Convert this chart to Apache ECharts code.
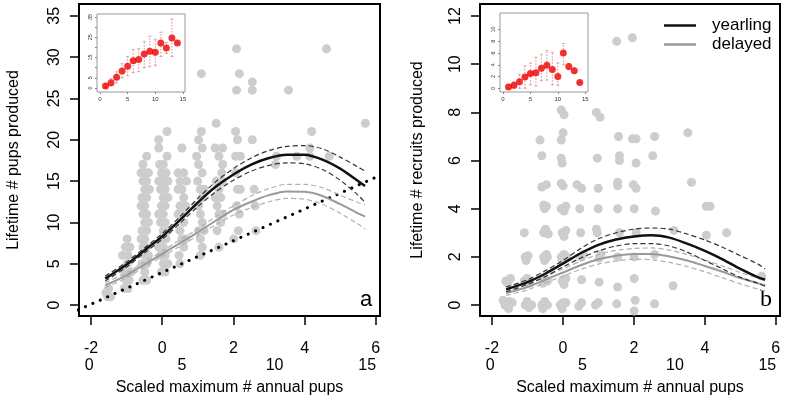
<!DOCTYPE html>
<html>
<head>
<meta charset="utf-8">
<script src="https://cdn.jsdelivr.net/npm/echarts@6/dist/echarts.min.js"></script>
<style>
html,body{margin:0;padding:0;background:#fff;}
#c{width:787px;height:401px;}
</style>
</head>
<body>
<div id="c"></div>
<script>
// ---------- axis conversion (raw pups <-> scaled) ----------
const rawMean = 3.94, rawSd = 1.92;
const scaledTicks = [-2, 0, 2, 4, 6];
const rawTicks = [0, 5, 10, 15];
const pupsTicks = [0, 5, 10, 15, 20, 25, 30, 35];
const recruitTicks = [0, 2, 4, 6, 8, 10, 12];

// ---------- panel a: scatter (raw max annual pups, lifetime pups) ----------
const pupsPoints = [
  [1.0,1],[1.15,1],[1.05,2],[0.9,1.5],
  [1.9,2],[2.1,2],[2.0,3],[2.15,3],[1.9,4],[2.25,4],[2.05,5],[2.1,6],[1.8,6],[1.95,7],[2.2,7],[2.05,8],
  [2.9,3],[3.1,3],[3.0,4],[2.85,5],[3.1,5],[3.0,6],[3.2,6],[2.9,7],[3.1,7],[3.0,8],[2.8,8],[2.85,9],[3.1,9],[3.0,10],[3.2,10],
  [2.9,11],[3.1,11],[3.0,12],[2.8,12],[2.85,13],[3.1,13],[3.0,14],[3.25,14],[2.9,15],[3.1,15],[3.0,16],[2.8,16],[3.2,16],[2.9,17],[3.1,18],
  [3.9,4],[4.1,4],[4.0,5],[4.25,5],[3.85,6],[4.1,6],[4.0,7],[3.75,7],[3.9,8],[4.15,8],[4.0,9],[4.25,9],[3.85,10],[4.1,10],[4.0,11],[3.75,11],
  [3.9,12],[4.1,12],[4.0,13],[4.25,13],[3.85,14],[4.1,14],[4.0,15],[3.75,15],[4.25,15],[3.9,16],[4.15,16],[4.0,17],[3.8,17],[4.2,18],
  [3.75,19],[3.75,20],[4.2,21],
  [4.9,5],[4.85,6],[5.1,7],[5.0,8],[5.2,8],[4.9,9],[5.1,10],[5.0,11],[4.8,11],[4.9,12],[5.2,12],[5.1,13],[5.0,14],[4.8,14],
  [4.9,15],[5.25,15],[5.1,16],[4.8,16],[5.0,19],
  [6.0,6],[6.1,7],[6.0,8],[5.9,9],[6.2,9],[6.1,10],[6.0,11],[5.9,12],[5.8,12],[6.1,13],[6.0,14],[6.2,14],[5.85,15],[6.1,16],[5.9,17],[5.8,18],
  [6.1,19],[5.9,20],[6.05,21],[6.05,28],
  [7.0,7],[6.9,9],[7.1,10],[7.0,11],[7.2,11],[6.9,12],[7.1,13],[6.8,13],[7.0,14],[6.85,15],[7.2,15],[7.15,16],[7.2,17],[7.0,18],[6.8,19],[7.2,19],[6.85,22],
  [7.8,8],[8.05,9],[8.1,11],[7.95,12],[8.0,14],[8.15,14],[7.9,16],[7.9,18],[8.15,18],[8.0,20],[7.9,21],[7.95,26],[8.1,28],[7.95,31],
  [9.0,9],[8.95,12],[8.9,14],[8.8,20],[8.8,26],[8.8,27],
  [10.05,17],[10.1,18],[10.75,26],[11.2,18],[11.9,18],[11.9,19],[12.0,21],[12.8,31],[12.95,18],[14.9,22]
];

// ---------- panel b: scatter (raw max annual pups, lifetime recruits) ----------
const recruitPoints = [
  [0.8,0],[1.0,-0.15],[1.05,0.15],[1.2,0.1],[0.7,0.2],[1.9,0],[2.1,-0.1],[2.0,0.15],[2.25,0],[2.8,0],[2.95,0.15],[2.85,-0.15],[3.1,0],
  [3.8,0],[3.95,0.1],[3.9,-0.15],[4.1,0.1],[4.8,-0.05],[4.95,0.1],[5.7,0],[5.85,0.1],[6.85,0.05],[7.8,-0.25],[7.85,0.2],[8.9,0.05],
  [0.85,1],[0.95,0.9],[1.1,1.1],[1.85,1],[2.0,1.1],[2.15,0.9],[2.85,0.9],[2.95,1.1],[3.1,1],[3.9,1],[4.0,0.85],[4.1,1.1],[4.95,1.05],[5.9,0.95],
  [6.9,0.75],[7.8,1.1],[9.9,0.8],[14.7,1.2],
  [1.9,2],[1.95,1.85],[2.05,2.05],[2.9,2],[3.05,2.1],[2.95,1.85],[3.1,2.0],[3.85,2],[4.0,2.1],[3.9,1.85],[4.15,2.0],[4.9,2],[5.05,2.1],
  [5.9,1.95],[6.0,2.1],[6.9,2],[7.8,2],[8.9,2.1],
  [1.85,3],[2.9,3],[3.0,3.15],[3.15,2.95],[3.9,3],[4.0,2.85],[4.1,3.1],[4.9,3],[5.8,3],[5.75,3.15],[7.0,3],[7.9,3],[9.95,3.1],[11.7,2.9],[12.8,3.0],
  [2.95,4],[3.05,4.1],[2.9,4.15],[3.85,4],[4.0,3.9],[4.1,4.1],[4.85,4],[5.85,4],[6.9,4],[7.8,4],[8.95,3.9],[11.7,4.1],[11.9,4.1],
  [2.8,4.9],[3.05,5.0],[3.85,5.05],[3.95,4.95],[4.7,5.0],[4.95,4.85],[5.85,4.85],[6.9,5.1],[6.9,4.95],[7.75,5.0],[7.9,4.85],[10.9,5.1],
  [2.8,6.2],[3.85,6.1],[3.9,5.9],[5.8,6.1],[7.0,6.2],[7.0,6.0],[7.9,5.9],[8.8,6.2],
  [2.7,6.85],[3.85,6.85],[3.95,7.15],[6.95,7.0],[7.7,6.9],[7.9,6.9],[8.9,7.0],[10.7,7.15],
  [3.85,8.1],[4.0,7.9],[5.75,8.0],[5.95,7.8],
  [6.85,10.95],[7.7,11.1]
];

// ---------- fitted curves (scaled x) ----------
const curveX = [-1.6,-1.0,-0.5,0,0.5,1.0,1.5,2.0,2.5,3.0,3.5,4.0,4.5,5.0,5.5,5.7];
const yearA   = [3.2,4.9,6.6,8.3,10.3,12.4,14.3,15.8,17.0,17.8,18.2,18.2,17.6,16.5,15.0,14.4];
const yearAHi = [3.5,5.2,6.9,8.65,10.7,12.9,14.9,16.5,17.8,18.7,19.2,19.3,18.9,17.9,16.7,16.2];
const yearALo = [2.9,4.6,6.3,7.95,9.9,11.9,13.7,15.1,16.2,16.9,17.2,17.1,16.4,15.1,13.3,12.4];
const delA    = [2.4,3.6,4.9,6.2,7.5,8.8,10.2,11.5,12.5,13.3,13.75,13.7,13.2,12.2,11.1,10.7];
const delAHi  = [2.7,3.9,5.2,6.5,7.9,9.2,10.7,12.0,13.2,14.1,14.6,14.6,14.2,13.3,12.4,12.1];
const delALo  = [2.1,3.3,4.6,5.9,7.1,8.4,9.7,10.9,11.8,12.5,12.9,12.8,12.2,11.1,9.8,9.2];
const yearB   = [0.65,0.95,1.3,1.72,2.15,2.5,2.72,2.85,2.9,2.8,2.55,2.25,1.9,1.5,1.15,1.05];
const yearBHi = [0.75,1.05,1.42,1.85,2.35,2.75,3.0,3.15,3.2,3.15,2.95,2.7,2.4,2.05,1.7,1.5];
const yearBLo = [0.55,0.85,1.18,1.58,1.95,2.25,2.45,2.55,2.55,2.45,2.2,1.85,1.5,1.15,0.9,0.78];
const delB    = [0.5,0.75,1.05,1.35,1.65,1.9,2.05,2.12,2.12,2.02,1.85,1.62,1.38,1.12,0.9,0.82];
const delBHi  = [0.6,0.87,1.18,1.5,1.82,2.1,2.27,2.35,2.37,2.28,2.1,1.87,1.62,1.35,1.12,1.05];
const delBLo  = [0.4,0.63,0.92,1.2,1.48,1.7,1.83,1.9,1.88,1.77,1.6,1.38,1.13,0.88,0.66,0.58];

// 1:1 line (raw x = lifetime pups)
const oneToOneRaw = [-0.6, 15.7];

// ---------- insets (raw max annual pups vs mean) ----------
const insetX = [1,2,3,4,5,6,7,8,9,10,11,12,13,14];
const insetA   = [1.0,2.6,5.3,8.4,10.7,13.4,14.1,16.8,18.1,17.6,22.2,19.7,24.6,22.2];
const insetALo = [0.2,1.0,2.5,5.0,6.0,7.5,8.0,10.0,10.5,11.0,15.5,17.0,15.5,22.2];
const insetAHi = [2.0,4.5,8.0,12.0,15.5,19.0,19.5,23.0,25.5,24.0,27.5,22.5,34.0,22.2];
const insetB   = [0.2,0.5,1.1,1.9,2.5,2.65,3.4,3.9,3.2,2.0,6.0,3.7,3.0,1.0];
const insetBLo = [0.0,0.0,0.0,0.0,0.6,0.4,1.3,1.4,0.6,0.5,4.0,3.2,2.6,1.0];
const insetBHi = [0.6,1.1,2.4,3.8,4.3,5.3,5.8,6.4,6.1,4.3,7.6,4.2,3.4,1.0];
const insetATicks = [0,5,10,15,20,25,30,35];
const insetALabels = [0,5,15,25,35];
const insetBTicks = [0,2,4,6,8,10];

// ---------- build ----------
const FONT = 'Liberation Sans';
const toScaled = r => (r - rawMean) / rawSd;
const sMin = -2.337, sMax = 6.118;
const rMin = rawMean + rawSd * sMin, rMax = rawMean + rawSd * sMax;

function pair(xs, ys) { return xs.map((x, i) => [x, ys[i]]); }

function mainX(grid) {
  return {
    gridIndex: grid, type: 'value', min: sMin, max: sMax, position: 'bottom',
    axisLine: {show: false, onZero: false}, splitLine: {show: false},
    axisTick: {show: true, length: 9, customValues: scaledTicks, lineStyle: {color: '#000', width: 1.5}},
    axisLabel: {customValues: scaledTicks, margin: 25, fontSize: 16, fontFamily: FONT, color: '#000'},
    name: 'Scaled maximum # annual pups', nameLocation: 'middle', nameGap: 64,
    nameTextStyle: {fontSize: 16, fontFamily: FONT, color: '#000'}
  };
}
function rawX(grid) {
  return {
    gridIndex: grid, type: 'value', min: rMin, max: rMax, position: 'bottom', offset: 0,
    axisLine: {show: false, onZero: false}, splitLine: {show: false}, axisTick: {show: false},
    axisLabel: {customValues: rawTicks, margin: 42, fontSize: 16, fontFamily: FONT, color: '#000'}
  };
}
function mainY(grid, min, max, ticks, name, gap) {
  return {
    gridIndex: grid, type: 'value', min: min, max: max, position: 'left',
    axisLine: {show: false, onZero: false}, splitLine: {show: false},
    axisTick: {show: true, length: 9, customValues: ticks, lineStyle: {color: '#000', width: 1.5}},
    axisLabel: {customValues: ticks, rotate: 90, margin: 16, fontSize: 16, fontFamily: FONT, color: '#000'},
    name: name, nameLocation: 'middle', nameGap: gap,
    nameTextStyle: {fontSize: 16, fontFamily: FONT, color: '#000'}
  };
}
function insetXAxis(grid, min, max) {
  return {
    gridIndex: grid, type: 'value', min: min, max: max, position: 'bottom',
    axisLine: {show: false, onZero: false}, splitLine: {show: false},
    axisTick: {show: true, length: 2, customValues: rawTicks, lineStyle: {color: '#666', width: 0.8}},
    axisLabel: {customValues: rawTicks, margin: 4, fontSize: 6, fontFamily: FONT, color: '#333'}
  };
}
function insetYAxis(grid, min, max, ticks, labels) {
  return {
    gridIndex: grid, type: 'value', min: min, max: max, position: 'left',
    axisLine: {show: false, onZero: false}, splitLine: {show: false},
    axisTick: {show: true, length: 2, customValues: ticks, lineStyle: {color: '#666', width: 0.8}},
    axisLabel: {customValues: labels, rotate: 90, margin: 4, fontSize: 5.5, fontFamily: FONT, color: '#333'}
  };
}

function lineSeries(name, xi, yi, xs, ys, color, width, dash, z) {
  return {
    name: name, type: 'line', xAxisIndex: xi, yAxisIndex: yi, data: pair(xs, ys),
    smooth: 0.3, showSymbol: false, symbol: 'none', color: color, z: z || 3,
    lineStyle: {color: color, width: width, type: dash || 'solid'}, silent: true, animation: false
  };
}
function errSeries(xi, yi, lo, hi) {
  return {
    type: 'custom', xAxisIndex: xi, yAxisIndex: yi, z: 5, animation: false,
    data: insetX.map((x, i) => [x, lo[i], hi[i]]),
    encode: {x: 0, y: [1, 2]},
    renderItem: function (params, api) {
      const p1 = api.coord([api.value(0), api.value(1)]);
      const p2 = api.coord([api.value(0), api.value(2)]);
      const st = {stroke: '#e58a8a', lineWidth: 1, lineDash: [1.5, 1.5]};
      return {type: 'group', children: [
        {type: 'line', shape: {x1: p1[0], y1: p1[1], x2: p2[0], y2: p2[1]}, style: st},
        {type: 'line', shape: {x1: p1[0]-1.5, y1: p1[1], x2: p1[0]+1.5, y2: p1[1]}, style: {stroke: '#e58a8a', lineWidth: 0.8}},
        {type: 'line', shape: {x1: p2[0]-1.5, y1: p2[1], x2: p2[0]+1.5, y2: p2[1]}, style: {stroke: '#e58a8a', lineWidth: 0.8}}
      ]};
    }
  };
}

const BLACK = '#111', BDASH = '#333', GREY = '#9a9a9a', GDASH = '#b0b0b0', PT = '#cdcdcd';

const option = {
  animation: false,
  backgroundColor: '#fff',
  grid: [
    {left: 79, top: 4, width: 301, height: 313, show: true, borderColor: '#000', borderWidth: 2, backgroundColor: 'transparent'},
    {left: 480, top: 4, width: 300, height: 313, show: true, borderColor: '#000', borderWidth: 2, backgroundColor: 'transparent'},
    {left: 97, top: 14, width: 88, height: 78, show: true, borderColor: '#999', borderWidth: 1, backgroundColor: '#fff', z: 4},
    {left: 500, top: 13, width: 88, height: 79, show: true, borderColor: '#999', borderWidth: 1, backgroundColor: '#fff', z: 4}
  ],
  xAxis: [
    mainX(0), rawX(0), mainX(1), rawX(1),
    insetXAxis(2, -0.54, 15.37), insetXAxis(3, -0.55, 15.5)
  ],
  yAxis: [
    mainY(0, -1.33, 36.43, pupsTicks, 'Lifetime # pups produced', 57),
    mainY(1, -0.455, 12.5, recruitTicks, 'Lifetime # recruits produced', 54),
    insetYAxis(2, -2, 36.5, insetATicks, insetALabels),
    insetYAxis(3, -0.63, 12.8, insetBTicks, insetBTicks)
  ],
  legend: {
    data: ['yearling', 'delayed'], orient: 'vertical', left: 659, top: 11,
    icon: 'rect', itemWidth: 32, itemHeight: 2.5, itemGap: 0,
    textStyle: {fontSize: 17, fontFamily: FONT, color: '#000', lineHeight: 19, padding: [0, 0, 0, 11]},
    selectedMode: false
  },
  graphic: [
    {type: 'text', left: 360, top: 289, style: {text: 'a', fontSize: 22, fontFamily: FONT, fill: '#000'}},
    {type: 'text', left: 760, top: 288, style: {text: 'b', fontSize: 24, fontFamily: 'Liberation Serif', fill: '#000'}}
  ],
  series: [
    {type: 'scatter', xAxisIndex: 0, yAxisIndex: 0, symbolSize: 9, itemStyle: {color: PT, opacity: 1}, z: 1,
     data: pupsPoints.map(p => [toScaled(p[0]), p[1]])},
    {type: 'scatter', xAxisIndex: 2, yAxisIndex: 1, symbolSize: 9, itemStyle: {color: PT, opacity: 1}, z: 1,
     data: recruitPoints.map(p => [toScaled(p[0]), p[1]])},
    {type: 'line', xAxisIndex: 0, yAxisIndex: 0, data: oneToOneRaw.map(r => [toScaled(r), r]),
     symbol: 'none', color: '#000', z: 2, lineStyle: {color: '#000', width: 3, type: [0.1, 8], cap: 'round'}},
    lineSeries('dAhi', 0, 0, curveX, delAHi, GDASH, 1.2, [5, 3]),
    lineSeries('dAlo', 0, 0, curveX, delALo, GDASH, 1.2, [5, 3]),
    lineSeries('dA', 0, 0, curveX, delA, GREY, 2),
    lineSeries('yAhi', 0, 0, curveX, yearAHi, BDASH, 1.2, [5, 3]),
    lineSeries('yAlo', 0, 0, curveX, yearALo, BDASH, 1.2, [5, 3]),
    lineSeries('yA', 0, 0, curveX, yearA, BLACK, 2.5),
    lineSeries('dBhi', 2, 1, curveX, delBHi, GDASH, 1.2, [5, 3]),
    lineSeries('dBlo', 2, 1, curveX, delBLo, GDASH, 1.2, [5, 3]),
    lineSeries('delayed', 2, 1, curveX, delB, GREY, 2),
    lineSeries('yBhi', 2, 1, curveX, yearBHi, BDASH, 1.2, [5, 3]),
    lineSeries('yBlo', 2, 1, curveX, yearBLo, BDASH, 1.2, [5, 3]),
    lineSeries('yearling', 2, 1, curveX, yearB, BLACK, 2.5),
    errSeries(4, 2, insetALo, insetAHi),
    errSeries(5, 3, insetBLo, insetBHi),
    {type: 'scatter', xAxisIndex: 4, yAxisIndex: 2, symbolSize: 7, itemStyle: {color: '#ee0000'}, z: 6, data: pair(insetX, insetA)},
    {type: 'scatter', xAxisIndex: 5, yAxisIndex: 3, symbolSize: 7, itemStyle: {color: '#ee0000'}, z: 6, data: pair(insetX, insetB)}
  ]
};

const chart = echarts.init(document.getElementById('c'), null, {renderer: 'canvas'});
chart.setOption(option);
</script>
</body>
</html>
